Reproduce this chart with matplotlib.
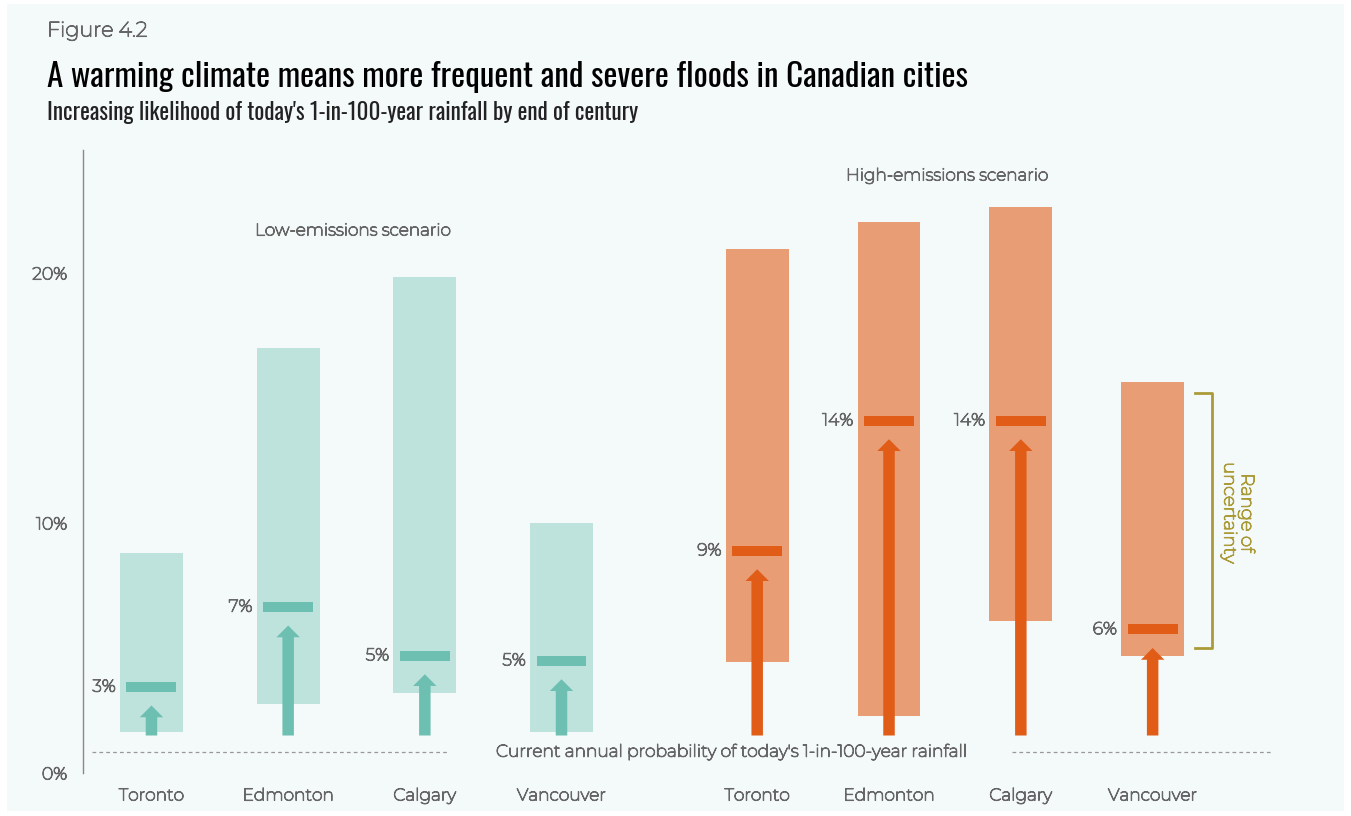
import numpy as np
import matplotlib.pyplot as plt
import matplotlib.patheffects as pe
from matplotlib.patches import Rectangle

# data (annual probability, %)
cities = ['Toronto', 'Edmonton', 'Calgary', 'Vancouver']
low_lo = [1.65, 2.75, 3.2, 1.65]
low_hi = [8.8, 17.0, 19.85, 10.0]
low_mid = [3.45, 6.65, 4.7, 4.5]
low_lbl = ['3%', '7%', '5%', '5%']
high_lo = [4.45, 2.3, 6.1, 4.7]
high_hi = [20.95, 22.05, 22.65, 15.65]
high_mid = [8.9, 14.1, 14.1, 5.75]
high_lbl = ['9%', '14%', '14%', '6%']
current = 0.85
arrow_base = 1.5

LOW_BAR, LOW_MARK = '#bde3dc', '#6dc0b1'
HIGH_BAR, HIGH_MARK = '#e89d74', '#e05c17'
GREY = '#666666'
OLIVE = '#aa9b38'
BG = '#f4f9f9'

# only the thin variable Montserrat is installed, so thicken it with a stroke
plt.rcParams['font.family'] = ['Montserrat', 'DejaVu Sans']
TITLE_FONT = ['Oswald', 'DejaVu Sans']

def thick(color, lw=0.8):
    return [pe.withStroke(linewidth=lw, foreground=color)]

fig = plt.figure(figsize=(13.51, 8.16), dpi=100)
fig.patch.set_facecolor('white')
fig.patches.append(Rectangle((0.005, 0.006), 0.99, 0.989, transform=fig.transFigure,
                             facecolor=BG, edgecolor='none', zorder=-10))

ax = fig.add_axes([83 / 1351, 43 / 816, (1290 - 83) / 1351, (773 - 150) / 816])
ax.set_facecolor('none')

x_low = np.arange(4) * 1.012
x_high = 4.485 + np.arange(4) * 0.976

bar_w = 0.466
mark_w = 0.37

def draw_group(xs, lo, hi, mid, lbls, cbar, cmark):
    ax.bar(xs, np.array(hi) - np.array(lo), bottom=lo, width=bar_w, color=cbar, zorder=2)
    ax.bar(xs, 0.4, bottom=np.array(mid) - 0.2, width=mark_w, color=cmark, zorder=4)
    for x, m, t in zip(xs, mid, lbls):
        ax.arrow(x, arrow_base, 0, m - 0.75 - arrow_base, width=0.085, head_width=0.173,
                 head_length=0.47, length_includes_head=True, color=cmark, lw=0, zorder=3)
        ax.text(x - 0.265, m, t, ha='right', va='center', fontsize=12.5, color=GREY,
                path_effects=thick(GREY))
    for x, c in zip(xs, cities):
        ax.text(x, -0.9, c, ha='center', va='center', fontsize=12.3, color=GREY,
                path_effects=thick(GREY))

draw_group(x_low, low_lo, low_hi, low_mid, low_lbl, LOW_BAR, LOW_MARK)
draw_group(x_high, high_lo, high_hi, high_mid, high_lbl, HIGH_BAR, HIGH_MARK)

# current probability line
ax.plot([-0.44, 2.2], [current, current], ls=(0, (3, 2.5)), color='#999999', lw=0.9)
ax.plot([6.37, 8.3], [current, current], ls=(0, (3, 2.5)), color='#999999', lw=0.9)
ax.text(4.3, current, "Current annual probability of today's 1-in-100-year rainfall",
        ha='center', va='center', fontsize=12.3, color=GREY, path_effects=thick(GREY))

ax.text(1.49, 21.7, 'Low-emissions scenario', ha='center', va='center', fontsize=12.2,
        color=GREY, path_effects=thick(GREY))
ax.text(5.89, 23.9, 'High-emissions scenario', ha='center', va='center', fontsize=12.2,
        color=GREY, path_effects=thick(GREY))

# uncertainty bracket
bx0, bx1 = 7.73, 7.855
ax.plot([bx0, bx1, bx1, bx0], [high_hi[3] - 0.45, high_hi[3] - 0.45, high_lo[3] + 0.3, high_lo[3] + 0.3],
        color=OLIVE, lw=2, solid_joinstyle='round')
ax.text(8.045, 10.4, 'Range of\nuncertainty', rotation=-90, ha='center', va='center',
        fontsize=13, color=OLIVE, linespacing=1.1, path_effects=thick(OLIVE))

ax.set_xlim(-0.507, 8.43)
ax.set_ylim(0, 24.92)
ax.set_yticks([0, 10, 20])
ax.set_yticklabels(['0%', '10%', '20%'])
ax.tick_params(axis='y', length=0, pad=11.5, labelsize=12.5, labelcolor=GREY)
for lbl in ax.get_yticklabels():
    lbl.set_path_effects(thick(GREY))
ax.set_xticks([])
for s in ['top', 'right', 'bottom']:
    ax.spines[s].set_visible(False)
ax.spines['left'].set_color('#888888')
ax.spines['left'].set_linewidth(1)

fig.text(47 / 1351, 1 - 31 / 816, 'Figure 4.2', ha='left', va='center', fontsize=15,
         color=GREY, path_effects=thick(GREY))
fig.text(47 / 1351, 1 - 77 / 816,
         'A warming climate means more frequent and severe floods in Canadian cities',
         ha='left', va='center', fontsize=23.8, color='black', family=TITLE_FONT)
fig.text(47 / 1351, 1 - 113 / 816,
         "Increasing likelihood of today's 1-in-100-year rainfall by end of century",
         ha='left', va='center', fontsize=16.7, color='#222222', family=TITLE_FONT)

fig.savefig('out.png', dpi=100, facecolor=fig.get_facecolor())
